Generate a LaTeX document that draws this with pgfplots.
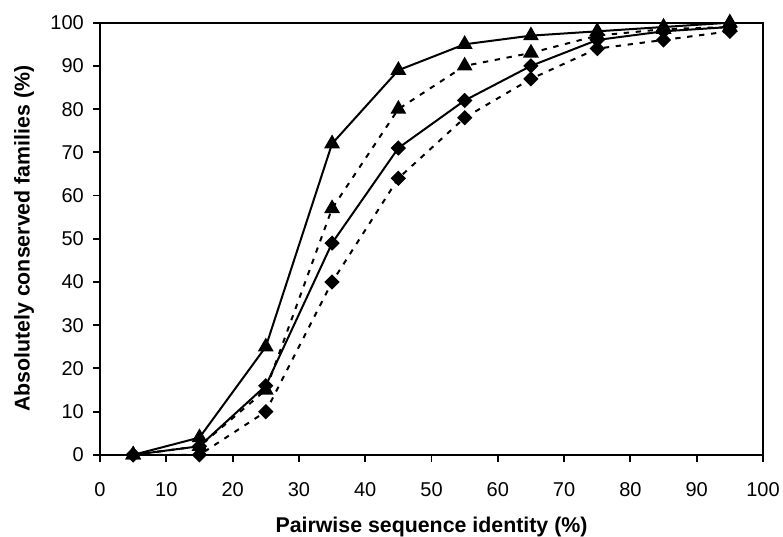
\documentclass[border=0pt]{standalone}
\usepackage{fontspec}
\setmainfont{Liberation Sans}
\usepackage{pgfplots}
\pgfplotsset{compat=1.18}
\usetikzlibrary{calc}
\begin{document}
\begin{tikzpicture}
\begin{axis}[
  scale only axis,
  width=497pt,height=324pt,
  xmin=0,xmax=100,ymin=0,ymax=100,
  xtick={0,10,...,100},ytick={0,10,...,100},
  tick align=outside,
  xtick pos=bottom,ytick pos=left,
  major tick length=5pt,
  axis line style={line width=1.6pt},
  every tick/.style={black,line width=1.4pt},
  tick label style={font=\fontsize{15}{17}\selectfont},
  xticklabel style={inner sep=0pt,anchor=north,yshift=-15.5pt},
  yticklabel style={inner sep=0pt,anchor=east,xshift=-7pt},
  /pgf/number format/assume math mode=true,
  xlabel={\textbf{Pairwise sequence identity (\%)}},
  ylabel={\textbf{Absolutely conserved families (\%)}},
  label style={font=\fontsize{16}{18}\selectfont},
  xlabel style={at={(0.5,0)},anchor=center,yshift=-54pt},
  ylabel style={at={(0,0.5)},anchor=center,yshift=57pt},
  clip=false,
]
\addplot[black,line width=1.5pt,mark=triangle*,mark size=5.4pt,mark options={solid}]
 coordinates {(5,0)(15,4)(25,25)(35,72)(45,89)(55,95)(65,97)(75,98)(85,99)(95,100)};
\addplot[black,line width=1.5pt,dash pattern=on 4pt off 5pt,mark=triangle*,mark size=5.4pt,mark options={solid}]
 coordinates {(5,0)(15,2)(25,15)(35,57)(45,80)(55,90)(65,93)(75,97)(85,98.5)(95,99)};
\addplot[black,line width=1.5pt,mark=square*,mark size=3.3pt,mark options={solid,rotate=45}]
 coordinates {(5,0)(15,2)(25,16)(35,49)(45,71)(55,82)(65,90)(75,96)(85,98)(95,99)};
\addplot[black,line width=1.5pt,dash pattern=on 4pt off 5pt,mark=square*,mark size=3.3pt,mark options={solid,rotate=45}]
 coordinates {(5,0)(15,0)(25,10)(35,40)(45,64)(55,78)(65,87)(75,94)(85,96)(95,98)};
\end{axis}
\pgfresetboundingbox
\path ($(current axis.south west)+(-75pt,-61.5pt)$) rectangle ($(current axis.north east)+(15pt,17pt)$);
\end{tikzpicture}
\end{document}
